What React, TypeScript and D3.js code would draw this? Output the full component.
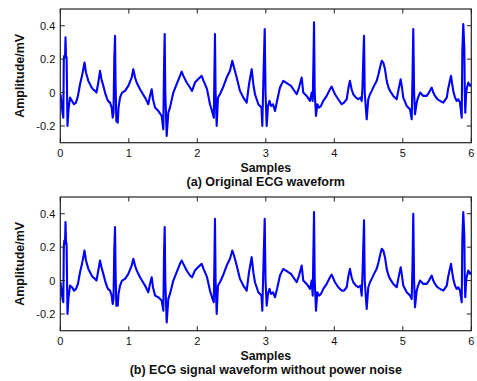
import * as d3 from "d3"

// time (s) and amplitude (mV)
const originalEcg: [number, number][] = [
  [0.003, -0.01], [0.018, -0.06], [0.032, -0.12], [0.044, -0.15], [0.051, 0.2], [0.058, 0.22], [0.069, 0.21], [0.076, 0.33],
  [0.083, 0.22], [0.092, 0.21], [0.105, -0.2], [0.12, -0.1], [0.142, -0.03], [0.171, -0.05], [0.2, -0.07], [0.229, -0.06],
  [0.258, -0.02], [0.288, 0.05], [0.317, 0.1], [0.336, 0.14], [0.353, 0.18], [0.375, 0.12], [0.409, 0.07], [0.434, 0.05],
  [0.458, 0.03], [0.477, 0.02], [0.507, 0.01], [0.528, 0.0], [0.555, 0.06], [0.58, 0.13], [0.601, 0.08], [0.628, 0.04],
  [0.653, 0.0], [0.677, -0.03], [0.696, -0.05], [0.726, -0.06], [0.75, -0.09], [0.765, -0.15], [0.777, -0.12], [0.788, 0.2],
  [0.799, 0.34], [0.807, 0.05], [0.818, -0.17], [0.838, -0.18], [0.85, -0.09], [0.872, -0.03], [0.901, 0.0], [0.945, 0.01],
  [0.993, 0.04], [1.042, 0.09], [1.066, 0.14], [1.091, 0.09], [1.115, 0.06], [1.164, 0.02], [1.207, -0.01], [1.237, -0.03],
  [1.285, -0.07], [1.309, -0.02], [1.334, 0.02], [1.353, -0.04], [1.383, -0.09], [1.431, -0.11], [1.48, -0.14], [1.504, -0.22],
  [1.514, 0.15], [1.524, 0.35], [1.533, 0.0], [1.553, -0.26], [1.577, -0.12], [1.601, -0.09], [1.65, 0.0], [1.699, 0.05],
  [1.747, 0.1], [1.772, 0.125], [1.796, 0.1], [1.845, 0.06], [1.893, 0.03], [1.923, 0.01], [1.966, 0.06], [2.01, 0.08],
  [2.064, 0.1], [2.091, 0.07], [2.112, 0.05], [2.142, 0.02], [2.185, -0.07], [2.215, -0.11], [2.241, -0.15], [2.251, 0.15],
  [2.258, 0.35], [2.267, 0.0], [2.283, -0.2], [2.302, -0.03], [2.331, -0.01], [2.375, 0.03], [2.429, 0.09], [2.477, 0.13],
  [2.511, 0.19], [2.536, 0.15], [2.575, 0.09], [2.623, 0.01], [2.672, -0.03], [2.721, -0.06], [2.755, 0.05], [2.794, 0.14],
  [2.818, 0.05], [2.842, -0.01], [2.891, -0.07], [2.937, -0.09], [2.949, -0.2], [2.966, 0.1], [2.984, 0.38], [2.996, 0.0],
  [3.013, -0.2], [3.032, -0.08], [3.054, -0.05], [3.076, -0.08], [3.105, -0.07], [3.134, -0.11], [3.164, -0.05], [3.207, 0.03],
  [3.255, 0.07], [3.295, 0.06], [3.328, 0.05], [3.368, 0.04], [3.401, 0.02], [3.451, -0.01], [3.485, 0.03], [3.524, 0.09],
  [3.547, 0.0], [3.597, -0.02], [3.645, -0.05], [3.67, 0.0], [3.685, -0.05], [3.696, 0.2], [3.704, 0.42], [3.714, 0.0],
  [3.733, -0.14], [3.752, -0.07], [3.777, -0.09], [3.806, -0.08], [3.839, -0.05], [3.889, -0.02], [3.937, 0.02], [3.962, 0.035],
  [3.988, 0.01], [4.01, -0.01], [4.058, -0.04], [4.107, -0.07], [4.142, -0.06], [4.181, -0.04], [4.207, 0.03], [4.228, 0.07],
  [4.253, 0.02], [4.277, -0.01], [4.316, -0.03], [4.35, -0.04], [4.382, -0.03], [4.4, -0.05], [4.411, 0.03], [4.423, 0.2],
  [4.434, 0.34], [4.444, 0.0], [4.473, -0.16], [4.496, -0.04], [4.521, -0.01], [4.546, 0.01], [4.58, 0.04], [4.619, 0.07],
  [4.645, 0.11], [4.667, 0.15], [4.692, 0.19], [4.715, 0.18], [4.74, 0.14], [4.765, 0.07], [4.791, 0.03], [4.813, 0.01],
  [4.861, -0.02], [4.911, -0.04], [4.934, 0.01], [4.969, 0.08], [4.988, 0.03], [5.007, -0.03], [5.057, -0.08], [5.105, -0.1],
  [5.13, -0.16], [5.142, 0.1], [5.153, 0.38], [5.165, 0.0], [5.178, -0.13], [5.203, -0.06], [5.223, -0.03], [5.252, 0.0],
  [5.299, -0.02], [5.349, -0.02], [5.382, 0.0], [5.422, 0.03], [5.445, 0.0], [5.47, -0.02], [5.507, -0.04], [5.543, -0.05],
  [5.591, -0.06], [5.642, -0.03], [5.661, 0.02], [5.682, 0.06], [5.704, 0.1], [5.721, 0.05], [5.737, 0.01], [5.762, -0.03],
  [5.787, -0.05], [5.81, -0.04], [5.835, -0.06], [5.86, -0.15], [5.869, 0.25], [5.883, 0.41], [5.898, 0.27], [5.905, 0.0],
  [5.912, -0.12], [5.925, 0.0], [5.932, 0.02], [5.956, 0.06], [5.981, 0.04], [6.0, 0.05],
]

const filteredEcg: [number, number][] = [
  [0.003, -0.01], [0.018, -0.06], [0.032, -0.11], [0.044, -0.13], [0.051, 0.2], [0.058, 0.24], [0.069, 0.22], [0.076, 0.35],
  [0.083, 0.24], [0.092, 0.21], [0.105, -0.2], [0.12, -0.1], [0.142, -0.03], [0.171, -0.04], [0.2, -0.06], [0.229, -0.05],
  [0.258, -0.02], [0.288, 0.05], [0.317, 0.1], [0.336, 0.14], [0.353, 0.18], [0.375, 0.12], [0.409, 0.07], [0.434, 0.05],
  [0.458, 0.03], [0.477, 0.02], [0.507, 0.01], [0.528, 0.0], [0.555, 0.06], [0.58, 0.12], [0.601, 0.08], [0.628, 0.04],
  [0.653, 0.0], [0.677, -0.03], [0.696, -0.05], [0.726, -0.06], [0.75, -0.09], [0.765, -0.14], [0.777, -0.11], [0.788, 0.18],
  [0.799, 0.32], [0.807, 0.05], [0.818, -0.15], [0.838, -0.15], [0.85, -0.08], [0.872, -0.03], [0.901, 0.0], [0.945, 0.01],
  [0.993, 0.04], [1.042, 0.09], [1.066, 0.13], [1.091, 0.09], [1.115, 0.06], [1.164, 0.02], [1.207, -0.01], [1.237, -0.03],
  [1.285, -0.07], [1.309, -0.02], [1.334, 0.02], [1.353, -0.04], [1.383, -0.09], [1.431, -0.1], [1.48, -0.12], [1.504, -0.18],
  [1.514, 0.15], [1.524, 0.32], [1.533, 0.0], [1.553, -0.25], [1.577, -0.11], [1.601, -0.08], [1.65, 0.0], [1.699, 0.05],
  [1.747, 0.1], [1.772, 0.12], [1.796, 0.1], [1.845, 0.06], [1.893, 0.03], [1.923, 0.02], [1.966, 0.06], [2.01, 0.08],
  [2.064, 0.1], [2.091, 0.07], [2.112, 0.05], [2.142, 0.02], [2.185, -0.06], [2.215, -0.1], [2.241, -0.13], [2.251, 0.15],
  [2.258, 0.37], [2.267, 0.0], [2.283, -0.2], [2.302, -0.03], [2.331, -0.01], [2.375, 0.03], [2.429, 0.09], [2.477, 0.13],
  [2.511, 0.18], [2.536, 0.15], [2.575, 0.09], [2.623, 0.01], [2.672, -0.03], [2.721, -0.06], [2.755, 0.05], [2.794, 0.14],
  [2.818, 0.05], [2.842, -0.01], [2.891, -0.07], [2.937, -0.09], [2.949, -0.18], [2.966, 0.1], [2.984, 0.37], [2.996, 0.0],
  [3.013, -0.15], [3.032, -0.08], [3.054, -0.05], [3.076, -0.08], [3.105, -0.07], [3.134, -0.1], [3.164, -0.05], [3.207, 0.03],
  [3.255, 0.07], [3.295, 0.06], [3.328, 0.05], [3.368, 0.04], [3.401, 0.02], [3.451, -0.01], [3.485, 0.03], [3.524, 0.09],
  [3.547, 0.0], [3.597, -0.02], [3.645, -0.05], [3.67, 0.0], [3.685, -0.09], [3.696, 0.2], [3.704, 0.41], [3.714, 0.0],
  [3.733, -0.18], [3.752, -0.07], [3.777, -0.09], [3.806, -0.08], [3.839, -0.05], [3.889, -0.02], [3.937, 0.02], [3.962, 0.035],
  [3.988, 0.01], [4.01, -0.01], [4.058, -0.04], [4.107, -0.06], [4.142, -0.06], [4.181, -0.04], [4.207, 0.03], [4.228, 0.07],
  [4.253, 0.02], [4.277, -0.01], [4.316, -0.03], [4.35, -0.04], [4.382, -0.03], [4.4, -0.09], [4.411, 0.03], [4.423, 0.2],
  [4.434, 0.36], [4.444, 0.0], [4.473, -0.17], [4.496, -0.04], [4.521, -0.01], [4.546, 0.01], [4.58, 0.04], [4.619, 0.07],
  [4.645, 0.11], [4.667, 0.15], [4.692, 0.19], [4.715, 0.18], [4.74, 0.14], [4.765, 0.07], [4.791, 0.03], [4.813, 0.01],
  [4.861, -0.02], [4.911, -0.04], [4.934, 0.01], [4.969, 0.08], [4.988, 0.03], [5.007, -0.03], [5.057, -0.07], [5.105, -0.09],
  [5.13, -0.11], [5.142, 0.1], [5.153, 0.4], [5.165, 0.0], [5.178, -0.16], [5.203, -0.06], [5.223, -0.03], [5.252, 0.0],
  [5.299, -0.02], [5.349, -0.02], [5.382, 0.0], [5.422, 0.03], [5.445, 0.0], [5.47, -0.02], [5.507, -0.04], [5.543, -0.05],
  [5.591, -0.06], [5.642, -0.03], [5.661, 0.02], [5.682, 0.06], [5.704, 0.1], [5.721, 0.05], [5.737, 0.01], [5.762, -0.03],
  [5.787, -0.05], [5.81, -0.04], [5.835, -0.06], [5.86, -0.13], [5.869, 0.25], [5.883, 0.41], [5.898, 0.27], [5.905, 0.0],
  [5.912, -0.1], [5.925, 0.0], [5.932, 0.02], [5.956, 0.06], [5.981, 0.04], [6.0, 0.05],
]

const xTicks = [0, 1, 2, 3, 4, 5, 6]
const yTicks = [-0.2, 0, 0.2, 0.4]
const xLabel = "Samples"
const yLabel = "Amplitude/mV"
const titles = ["(a) Original ECG waveform", "(b) ECG signal waveform without power noise"]

const W = 477
const H = 381
const left = 60.3
const right = 471.3
const plotH = 133.7
const tops = [9, 197]
const FONT = "'Liberation Sans', Arial, sans-serif"

function Panel({ data, top, title, id }: { data: [number, number][]; top: number; title: string; id: string }) {
  const bottom = top + plotH
  const x = d3.scaleLinear().domain([0, 6]).range([left, right])
  const y = d3.scaleLinear().domain([-0.3, 0.5]).range([bottom, top])
  const line = d3
    .line<[number, number]>()
    .x((d) => x(d[0]))
    .y((d) => y(d[1]))
  const mid = (left + right) / 2
  const tk = 4.5

  return (
    <g>
      <clipPath id={id}>
        <rect x={left} y={top} width={right - left} height={plotH} />
      </clipPath>
      <path
        d={line(data) ?? ""}
        fill="none"
        stroke="#0000ff"
        strokeWidth={2.1}
        strokeLinejoin="round"
        clipPath={`url(#${id})`}
      />
      <rect x={left} y={top} width={right - left} height={plotH} fill="none" stroke="#222" strokeWidth={1.2} />
      {xTicks.map((t) => (
        <g key={t}>
          <line x1={x(t)} x2={x(t)} y1={bottom} y2={bottom - tk} stroke="#222" />
          <line x1={x(t)} x2={x(t)} y1={top} y2={top + tk} stroke="#222" />
          <text x={x(t)} y={bottom + 14.3} textAnchor="middle" fontSize={11} fontFamily={FONT} fill="#111">
            {t}
          </text>
        </g>
      ))}
      {yTicks.map((v) => (
        <g key={v}>
          <line x1={left} x2={left + tk} y1={y(v)} y2={y(v)} stroke="#222" />
          <line x1={right} x2={right - tk} y1={y(v)} y2={y(v)} stroke="#222" />
          <text x={left - 5} y={y(v) + 4} textAnchor="end" fontSize={11} fontFamily={FONT} fill="#111">
            {v}
          </text>
        </g>
      ))}
      <text
        transform={`translate(24,${(top + bottom) / 2}) rotate(-90)`}
        textAnchor="middle"
        fontSize={12.5}
        fontWeight="bold"
        fontFamily={FONT}
        fill="#111"
      >
        {yLabel}
      </text>
      <text x={mid} y={bottom + 29.5} textAnchor="middle" fontSize={12.3} fontWeight="bold" fontFamily={FONT} fill="#111">
        {xLabel}
      </text>
      <text x={mid} y={bottom + 43} textAnchor="middle" fontSize={12.5} fontWeight="bold" fontFamily={FONT} fill="#111">
        {title}
      </text>
    </g>
  )
}

export default function App() {
  return (
    <svg
      width={W}
      height={H}
      viewBox={`0 0 ${W} ${H}`}
      style={{ position: "absolute", left: 0, top: 0, background: "#fff" }}
    >
      <Panel data={originalEcg} top={tops[0]} title={titles[0]} id="clip-a" />
      <Panel data={filteredEcg} top={tops[1]} title={titles[1]} id="clip-b" />
    </svg>
  )
}
